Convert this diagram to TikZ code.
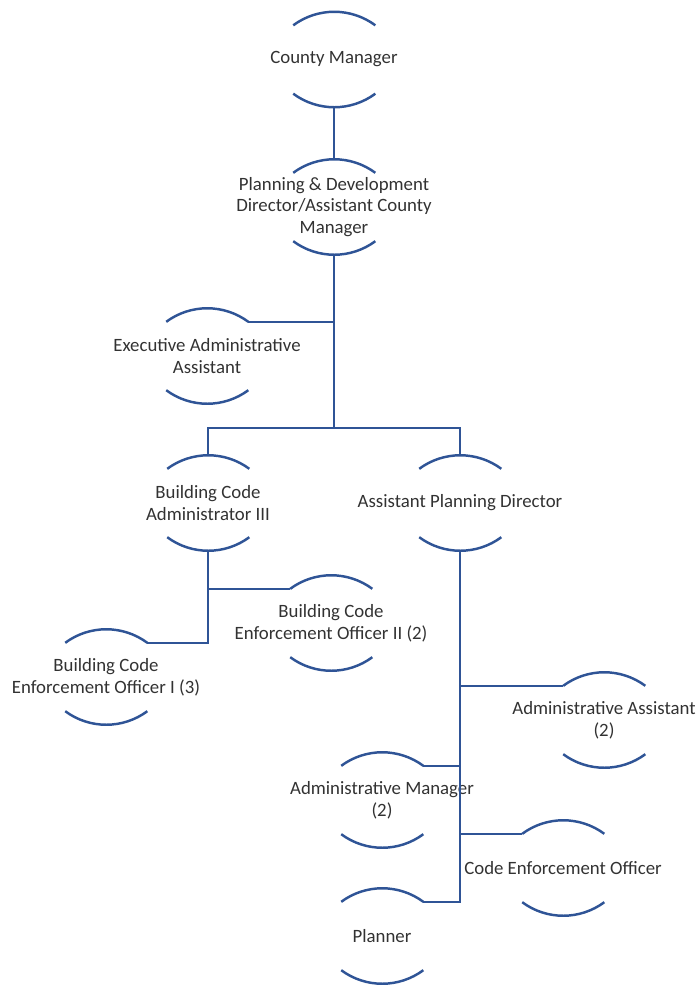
\documentclass[tikz,border=0pt]{standalone}
\usepackage{fontspec}
\setmainfont{Carlito}
\usetikzlibrary{shapes.geometric}
\definecolor{orgblue}{RGB}{47,84,150}
\definecolor{orgtext}{RGB}{50,50,50}

\begin{document}
\begin{tikzpicture}[
  every label/.style={font=\fontsize{10.7}{12.4}\selectfont,text=orgtext,align=center,inner sep=0pt},
  unit/.style={ellipse,minimum width=2.35cm,minimum height=1.9cm,inner sep=0pt,outer sep=0pt},
  rim/.style={draw=orgblue,line width=1.4pt},
  ln/.style={draw=orgblue,line width=1.1pt}]
\useasboundingbox (0,0) rectangle (13.92,-19.82);
\node[unit,label={center:County Manager}] (cm) at (6.68,-1.19) {};
\node[unit,label={center:{Planning \& Development\\Director/Assistant County\\Manager}}] (pd) at (6.68,-4.14) {};
\node[unit,label={center:{Executive Administrative\\Assistant}}] (eaa) at (4.14,-7.12) {};
\node[unit,label={center:{Building Code\\Administrator III}}] (bca) at (4.16,-10.06) {};
\node[unit,label={center:Assistant Planning Director}] (apd) at (9.20,-10.06) {};
\node[unit,label={center:{Building Code\\Enforcement Officer II (2)}}] (beo2) at (6.62,-12.46) {};
\node[unit,label={center:{Building Code\\Enforcement Officer I (3)}}] (beo1) at (2.12,-13.54) {};
\node[unit,label={center:{Administrative Assistant\\(2)}}] (aa) at (12.08,-14.40) {};
\node[unit,label={center:{Administrative Manager\\(2)}}] (am) at (7.64,-16.00) {};
\node[unit,label={center:Code Enforcement Officer}] (ceo) at (11.26,-17.36) {};
\node[unit,label={center:Planner}] (pl) at (7.64,-18.72) {};
\coordinate (bus) at (6.68,-8.56);
\foreach \n in {cm,pd,eaa,bca,apd,beo2,beo1,aa,am,ceo,pl} {
  \draw[rim] (\n.140) arc[start angle=126.5,end angle=53.5,radius=1.38cm];
  \draw[rim] (\n.220) arc[start angle=233.5,end angle=306.5,radius=1.38cm];
}
\draw[ln] (cm.south) -- (pd.north);
\draw[ln] (pd.south) -- (bus);
\draw[ln] (eaa.40) -- (eaa.40 -| pd.south);
\draw[ln] (bca.north) |- (bus) -| (apd.north);
\draw[ln] (bca.south) |- (beo1.40);
\draw[ln] (bca.south |- beo2.140) -- (beo2.140);
\draw[ln] (apd.south) |- (pl.40);
\draw[ln] (apd.south |- aa.140) -- (aa.140);
\draw[ln] (apd.south |- am.40) -- (am.40);
\draw[ln] (apd.south |- ceo.140) -- (ceo.140);
\end{tikzpicture}
\end{document}
